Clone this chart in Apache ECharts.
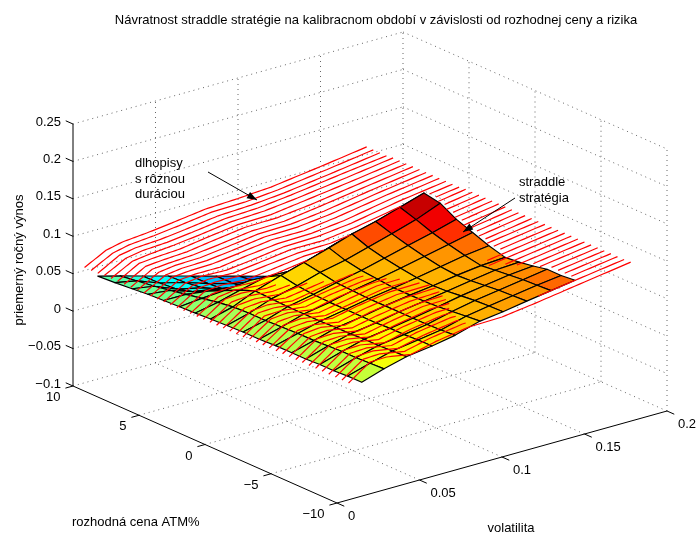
<!DOCTYPE html>
<html><head><meta charset="utf-8">
<style>html,body{margin:0;padding:0;background:#fff}#c{width:698px;height:536px}</style>
<script src="https://cdn.jsdelivr.net/npm/echarts@6/dist/echarts.min.js"></script>
</head><body><div id="c"></div>
<script>
// ---- axis ticks ----
const volTicks=[0,0.05,0.1,0.15,0.2];
const volTickLabels=['0','0.05','0.1','0.15','0.2'];
const strikeTicks=[10,5,0,-5,-10];
const strikeTickLabels=['10','5','0','\u22125','\u221210'];
const returnTicks=[-0.1,-0.05,0,0.05,0.1,0.15,0.2,0.25];
const returnTickLabels=['\u22120.1','\u22120.05','0','0.05','0.1','0.15','0.2','0.25'];
// ---- surface: straddle strategy ----
const surfaceVol=[0.015,0.0285,0.042,0.0576,0.0715,0.0867,0.1006,0.115,0.1297,0.1443];
const surfaceStrike=[-10,-8.94,-7.88,-6.82,-5.76,-4.7,-3.47,-2.24,-1.01,0.22,1.45,2.6,3.8,5,6.2,7.4,8.7,10];
const surfaceReturn=[
[.052,.052,.051,.051,.050,.050,.050,.049,.049,.048,.047,.046,.045,.044,.043,.041,.039,.0376],
[.0617,.061,.060,.060,.059,.058,.058,.057,.056,.056,.055,.052,.048,.044,.040,.036,.033,.0296],
[.0697,.069,.068,.068,.067,.067,.066,.066,.066,.067,.068,.060,.050,.040,.030,.024,.022,.0212],
[.0743,.074,.073,.073,.072,.072,.072,.072,.073,.075,.079,.068,.054,.036,.024,.016,.013,.0116],
[.080,.079,.078,.078,.078,.078,.078,.079,.080,.084,.088,.067,.048,.028,.012,.005,.003,.003],
[.0897,.088,.086,.084,.083,.083,.083,.085,.087,.091,.098,.077,.052,.025,.004,-.004,-.006,-.0065],
[.0937,.093,.092,.090,.088,.087,.088,.091,.095,.100,.108,.087,.065,.040,.012,-.006,-.012,-.015],
[.099,.098,.097,.095,.093,.092,.094,.098,.103,.109,.116,.093,.070,.045,.014,-.010,-.020,-.024],
[.104,.103,.102,.100,.098,.096,.100,.105,.111,.119,.126,.099,.072,.045,.015,-.012,-.026,-.033],
[.109,.107,.107,.103,.100,.098,.104,.112,.120,.132,.136,.105,.075,.045,.015,-.015,-.032,-.042]];
// ---- red lines: bonds with different duration ----
const bondVol=[.007,.02,.03,.045,.06,.08,.1,.12,.15,.178];
const bondStrike=[10,9.5,9,8.5,8,7.5,7,6.5,6,5.5,5,4.5,4,3.5,3,2.5,2,1.5,1,.5,0,-.5,-1,-1.5,-2,-2.5,-3,-3.5,-4,-4.5,-5,-5.5,-6,-6.5,-7,-7.5,-8,-8.5,-9,-9.5,-10];
const bondReturn=[
[.054,.069,.074,.077,.081,.087,.089,.092,.101,.110],
[.054,.069,.074,.077,.081,.087,.088,.092,.101,.110],
[.054,.070,.074,.076,.080,.086,.088,.092,.101,.110],
[.055,.070,.074,.076,.080,.086,.088,.093,.102,.110],
[.055,.070,.073,.076,.080,.086,.088,.093,.102,.111],
[.055,.071,.073,.075,.080,.086,.087,.093,.102,.111],
[.055,.071,.073,.075,.080,.086,.087,.092,.102,.111],
[.055,.071,.073,.075,.079,.085,.086,.092,.102,.111],
[.055,.071,.074,.075,.079,.085,.086,.091,.102,.111],
[.055,.071,.074,.075,.079,.085,.086,.091,.102,.111],
[.055,.072,.074,.075,.079,.085,.085,.091,.102,.111],
[.055,.072,.074,.074,.079,.084,.085,.090,.102,.111],
[.055,.072,.075,.074,.078,.084,.085,.090,.102,.111],
[.055,.072,.075,.074,.078,.084,.084,.090,.102,.111],
[.055,.073,.075,.074,.078,.083,.084,.090,.102,.111],
[.055,.073,.075,.073,.077,.083,.084,.090,.102,.112],
[.055,.073,.075,.073,.077,.083,.085,.090,.102,.112],
[.055,.073,.076,.073,.077,.083,.085,.090,.102,.112],
[.055,.074,.076,.073,.076,.083,.085,.091,.102,.112],
[.055,.074,.076,.073,.076,.084,.085,.091,.102,.112],
[.055,.074,.076,.073,.077,.084,.086,.091,.102,.112],
[.055,.074,.076,.072,.077,.084,.086,.091,.102,.112],
[.055,.074,.076,.072,.078,.085,.086,.091,.102,.112],
[.055,.075,.076,.072,.078,.085,.086,.092,.102,.112],
[.055,.075,.076,.072,.079,.085,.086,.092,.102,.112],
[.056,.075,.077,.072,.079,.085,.087,.092,.102,.112],
[.056,.075,.077,.072,.078,.086,.087,.092,.103,.112],
[.056,.075,.077,.072,.078,.086,.087,.092,.103,.112],
[.056,.075,.077,.072,.079,.086,.087,.092,.103,.112],
[.056,.075,.077,.071,.079,.086,.087,.093,.103,.112],
[.056,.075,.077,.071,.079,.085,.087,.093,.103,.112],
[.056,.075,.077,.071,.078,.085,.087,.093,.103,.112],
[.056,.076,.077,.071,.078,.085,.087,.093,.103,.112],
[.056,.076,.077,.071,.078,.086,.087,.093,.103,.112],
[.056,.076,.077,.071,.078,.086,.087,.093,.103,.112],
[.056,.076,.077,.071,.079,.086,.087,.093,.103,.112],
[.056,.076,.077,.071,.079,.086,.087,.093,.103,.112],
[.056,.076,.077,.071,.079,.086,.087,.093,.103,.112],
[.056,.076,.077,.071,.079,.086,.087,.093,.103,.112],
[.056,.076,.077,.071,.079,.086,.087,.093,.103,.112],
[.056,.076,.0766,.071,.079,.086,.087,.093,.103,.1124]];
// return -> jet position of the surface colouring
const colorReturnStops=[-.04,-.02,-.005,.01,.022,.035,.045,.055,.066,.08,.09,.103,.108,.118,.128];
const colorJetStops=[.15,.22,.30,.36,.39,.46,.50,.56,.62,.66,.70,.74,.80,.875,.93];

// ---- projection of the 3-D box (orthographic) ----
const O={x:337,y:503}, VX={x:330,y:-92}, KX={x:-264,y:-117}, ZH=262;
function proj(v,k,z){const a=v/.2,b=(k+10)/20,c=(z+.1)/.35;
 return [O.x+a*VX.x+b*KX.x, O.y+a*VX.y+b*KX.y-c*ZH];}
function jet(p){const f=(c)=>Math.max(0,Math.min(1,1.5-Math.abs(4*p-c)));
 return 'rgb('+[f(3),f(2),f(1)].map(t=>Math.round(t*255)).join(',')+')';}
function jetPos(z){const s=colorReturnStops,t=colorJetStops;if(z<=s[0])return t[0];
 for(let i=1;i<s.length;i++)if(z<=s[i])return t[i-1]+(t[i]-t[i-1])*(z-s[i-1])/(s[i]-s[i-1]);return t[t.length-1];}

// cells, painted from far to near
const cells=[];
for(let j=surfaceStrike.length-2;j>=0;j--)for(let i=surfaceVol.length-2;i>=0;i--){
 const c=[[i,j],[i+1,j],[i+1,j+1],[i,j+1]];
 const pts=c.map(([a,b])=>proj(surfaceVol[a],surfaceStrike[b],surfaceReturn[a][b]));
 const zs=c.map(([a,b])=>surfaceReturn[a][b]);
 cells.push({pts,zs,color:jet(jetPos(zs.reduce((p,q)=>p+q)/4))});
}
function surfaceHides(px,py,z){
 for(const q of cells){for(const [a,b,c] of [[0,1,2],[0,2,3]]){
  const A=q.pts[a],B=q.pts[b],C=q.pts[c];
  const d=(B[1]-C[1])*(A[0]-C[0])+(C[0]-B[0])*(A[1]-C[1]);if(Math.abs(d)<1e-9)continue;
  const l1=((B[1]-C[1])*(px-C[0])+(C[0]-B[0])*(py-C[1]))/d;
  const l2=((C[1]-A[1])*(px-C[0])+(A[0]-C[0])*(py-C[1]))/d;const l3=1-l1-l2;
  if(l1<0||l2<0||l3<0)continue;
  if(l1*q.zs[a]+l2*q.zs[b]+l3*q.zs[c]>z+1e-4)return true;
 }}return false;}
// red polylines with the parts under the surface left out
function bondData(r){const out=[];let vis=false;const k=bondStrike[r],zz=bondReturn[r];
 for(let i=0;i<bondVol.length-1;i++){const n=10;
  for(let s=(i?1:0);s<=n;s++){const t=s/n,v=bondVol[i]+(bondVol[i+1]-bondVol[i])*t,z=zz[i]+(zz[i+1]-zz[i])*t;
   const p=proj(v,k,z);
   if(surfaceHides(p[0],p[1],z)){if(vis)out.push([null,null]);vis=false;}
   else{out.push(p);vis=true;}
  }}
 return out;}
// box
const dotted=[];
const seg=(a,b)=>dotted.push([a,b]);
const V0=0,V1=.2,K0=-10,K1=10,Z0=-.1,Z1=.25;
[.05,.1,.15].forEach(v=>{seg(proj(v,K0,Z0),proj(v,K1,Z0));seg(proj(v,K1,Z0),proj(v,K1,Z1));});
seg(proj(V1,K1,Z0),proj(V1,K1,Z1));seg(proj(V1,K0,Z0),proj(V1,K0,Z1));
[-5,0,5].forEach(k=>{seg(proj(V0,k,Z0),proj(V1,k,Z0));seg(proj(V1,k,Z0),proj(V1,k,Z1));});
seg(proj(V0,K1,Z0),proj(V1,K1,Z0));seg(proj(V1,K0,Z0),proj(V1,K1,Z0));
returnTicks.slice(1).forEach(z=>{seg(proj(V0,K1,z),proj(V1,K1,z));seg(proj(V1,K1,z),proj(V1,K0,z));});
const solid=[[proj(V0,K1,Z0),proj(V0,K1,Z1)],[proj(V0,K1,Z0),proj(V0,K0,Z0)],[proj(V0,K0,Z0),proj(V1,K0,Z0)]];
strikeTicks.forEach(k=>solid.push([proj(0,k,Z0),proj(-.0046,k,Z0)]));
volTicks.forEach(v=>solid.push([proj(v,K0,Z0),proj(v,K0-.55,Z0)]));
returnTicks.forEach(z=>solid.push([proj(V0,K1,z),proj(V0,K1+.55,z)]));
const FONT='13px "Liberation Sans", Arial, sans-serif';
const texts=[];
const T=(s,x,y,al,rot)=>texts.push({s,x,y,al:al||'left',rot:rot||0});
strikeTicks.forEach((k,i)=>{const p=proj(0,k,Z0);T(strikeTickLabels[i],p[0]-12.5,p[1]+11.5,'right');});
volTicks.forEach((v,i)=>{const p=proj(v,K0,Z0);T(volTickLabels[i],p[0]+11,p[1]+13.5,'left');});
returnTicks.forEach((z,i)=>{const p=proj(0,K1,z);T(returnTickLabels[i],p[0]-12,p[1]-2,'right');});
T('rozhodn\u00e1 cena ATM%',72,522);T('volatilita',511,528,'center');
T('priemern\u00fd ro\u010dn\u00fd v\u00fdnos',19,260,'center',Math.PI/2);
T('dlhopisy',135,163);T('s r\u00f4znou',135,179);T('dur\u00e1ciou',135,194);
T('straddle',519,182);T('strat\u00e9gia',519,198);
const arrows=[[[208,172],[257,200]],[[515,198],[463,232]]];

const lineBase={type:'line',showSymbol:false,symbol:'none',silent:true,animation:false,clip:false,connectNulls:false};
const flat=(segs)=>{const o=[];segs.forEach(s=>{o.push(s[0],s[1],[null,null]);});return o;};
const series=[
 Object.assign({},lineBase,{name:'grid',z:1,data:flat(dotted),lineStyle:{color:'#555',width:.9,type:[1,4]}}),
 {type:'custom',name:'straddle strat\u00e9gia',z:2,silent:true,animation:false,clip:false,coordinateSystem:'cartesian2d',
  data:cells.map((c,i)=>[c.pts[0][0],c.pts[0][1],i]),
  renderItem:(p,api)=>{const c=cells[p.dataIndex];
   return {type:'polygon',shape:{points:c.pts.map(q=>api.coord(q))},style:{fill:c.color,stroke:'#000',lineWidth:1.15,lineJoin:'round'}};}},
 ...bondStrike.map((k,r)=>Object.assign({},lineBase,{name:'K '+k,z:3,data:bondData(r),lineStyle:{color:'#ff0000',width:1.2}})),
 Object.assign({},lineBase,{name:'axes',z:4,data:flat(solid),lineStyle:{color:'#000',width:1}}),
 Object.assign({},lineBase,{name:'arrows',z:5,data:flat(arrows),lineStyle:{color:'#000',width:1}}),
 {type:'custom',name:'arrowheads',z:5,silent:true,animation:false,clip:false,coordinateSystem:'cartesian2d',
  data:arrows.map(a=>a[1]),
  renderItem:(p,api)=>{const a=arrows[p.dataIndex],t=api.coord(a[1]),s=api.coord(a[0]);
   const d=Math.hypot(t[0]-s[0],t[1]-s[1]),ux=(t[0]-s[0])/d,uy=(t[1]-s[1])/d,L=10,W=3.6;
   return {type:'polygon',shape:{points:[t,[t[0]-L*ux-W*uy,t[1]-L*uy+W*ux],[t[0]-L*ux+W*uy,t[1]-L*uy-W*ux]]},style:{fill:'#000'}};}},
 {type:'custom',name:'labels',z:6,silent:true,animation:false,clip:false,coordinateSystem:'cartesian2d',
  data:texts.map(t=>[t.x,t.y]),
  renderItem:(p,api)=>{const t=texts[p.dataIndex],c=api.coord([t.x,t.y]);
   return {type:'text',x:c[0],y:c[1],rotation:t.rot,style:{text:t.s,font:FONT,fill:'#000',textAlign:t.al,textVerticalAlign:'middle'}};}}
];
const chart=echarts.init(document.getElementById('c'),null,{renderer:'canvas'});
chart.setOption({animation:false,backgroundColor:'#fff',
 title:{text:'N\u00e1vratnost straddle strat\u00e9gie na kalibracnom obdob\u00ed v z\u00e1vislosti od rozhodnej ceny a rizika',
  left:371,top:9,textAlign:'center',textStyle:{fontFamily:'"Liberation Sans", Arial, sans-serif',fontWeight:'normal',fontSize:13,color:'#000'}},
 grid:{left:0,right:0,top:0,bottom:0,containLabel:false},
 xAxis:{type:'value',min:0,max:698,show:false},
 yAxis:{type:'value',min:0,max:536,inverse:true,show:false},
 series});
</script></body></html>
